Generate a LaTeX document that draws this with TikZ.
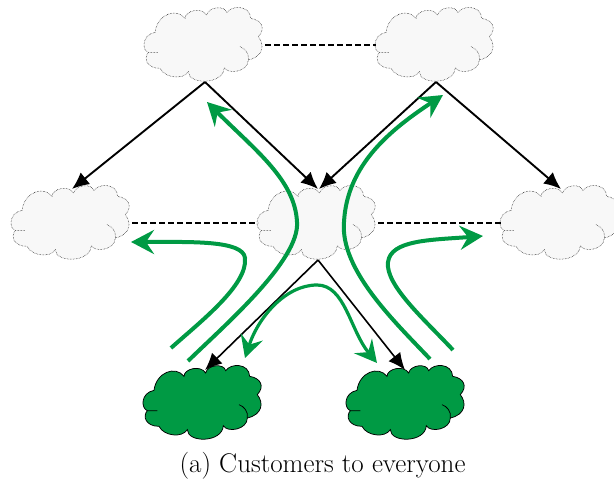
\documentclass[tikz,border=0pt]{standalone}
\usetikzlibrary{arrows.meta}
\definecolor{flow}{RGB}{0,154,68}
\definecolor{cloudfill}{RGB}{248,248,248}
\tikzset{
  x=1pt,y=-1pt,
  cloudpeer/.style={fill=cloudfill,draw=black,line width=0.5pt,densely dotted},
  cloudcust/.style={fill=flow,draw=black,line width=0.75pt},
  anchorbox/.style={minimum width=120pt,minimum height=74pt,inner sep=0pt,outer sep=0pt},
  linkp/.style={line width=1.9pt,-{Latex[length=17pt,width=15pt]}},
  peerlink/.style={line width=1.9pt,dash pattern=on 6pt off 3pt},
  flowbig/.style={draw=flow,line width=4pt,-{Stealth[length=23pt,width=24pt,inset=8pt]}},
  flowthin/.style={draw=flow,line width=3.2pt,{Stealth[length=22pt,width=23pt,inset=8pt]}-{Stealth[length=22pt,width=23pt,inset=8pt]}},
  pics/cloud/.style={code={
    \draw[#1,x=.3333pt,y=-.3333pt,shift={(-225,-135)}]
      (75,97) .. controls (82,42) and (140,22) .. (165,55)
      .. controls (165,32) and (215,20) .. (230,45)
      .. controls (235,20) and (285,15) .. (290,38)
      .. controls (305,15) and (360,15) .. (362,55)
      .. controls (395,60) and (408,85) .. (385,110)
      .. controls (405,135) and (400,170) .. (355,180)
      .. controls (355,215) and (295,225) .. (283,203)
      .. controls (280,255) and (175,255) .. (175,215)
      .. controls (160,240) and (105,235) .. (90,205)
      .. controls (50,205) and (40,175) .. (55,158)
      .. controls (35,150) and (35,105) .. (75,97) -- cycle;
    \draw[#1,fill=none,x=.3333pt,y=-.3333pt,shift={(-225,-135)}]
      (355,180) .. controls (358,160) and (345,145) .. (330,140)
      (55,158) -- (85,158);
  }}
}
\begin{document}
\begin{tikzpicture}
\useasboundingbox (0,0) rectangle (614,481);
% clouds
\pic at (205,45) {cloud=cloudpeer};
\pic at (436,45) {cloud=cloudpeer};
\pic at (72,223) {cloud=cloudpeer};
\pic at (318,223) {cloud=cloudpeer};
\pic at (561,223) {cloud=cloudpeer};
\pic at (204,403) {cloud=cloudcust};
\pic at (407,403) {cloud=cloudcust};
% named anchors
\node[anchorbox] (tl) at (205,45) {};
\node[anchorbox] (tr) at (436,45) {};
\node[anchorbox] (ml) at (72,223) {};
\node[anchorbox] (mc) at (318,223) {};
\node[anchorbox] (mr) at (561,223) {};
\node[anchorbox] (bl) at (204,403) {};
\node[anchorbox] (br) at (407,403) {};
% links
\draw[linkp] (tl.south) -- ([yshift=-3pt]ml.north);
\draw[linkp] (tl.south) -- ([yshift=-3pt]mc.north);
\draw[linkp] (tr.south) -- ([xshift=1pt,yshift=-3pt]mc.north);
\draw[linkp] (tr.south) -- ([yshift=-3pt]mr.north);
\draw[linkp,line width=1.6pt] (mc.south) -- ([xshift=1pt,yshift=-4pt]bl.north);
\draw[linkp,line width=1.6pt] (mc.south) -- ([xshift=-2pt,yshift=-4pt]br.north);
\draw[peerlink] (tl.east) -- (tr.west);
\draw[peerlink] (ml.east) -- (mc.west);
\draw[peerlink] (mc.east) -- (mr.west);
% flows
\coordinate (f1a) at (171,348); \coordinate (f1m) at (245,258); \coordinate (f1b) at (131,242);
\coordinate (f2a) at (188,361); \coordinate (f2m) at (297,222); \coordinate (f2b) at (207,102);
\coordinate (f3a) at (430,359); \coordinate (f3m) at (344,222); \coordinate (f3b) at (443,95);
\coordinate (f4a) at (453,350); \coordinate (f4m) at (388,262); \coordinate (f4b) at (483,236);
\coordinate (f5a) at (245,358); \coordinate (f5m) at (317,285); \coordinate (f5b) at (377,363);
\draw[flowbig] (f1a) .. controls (200,322) and (248,285) .. (f1m) .. controls (243,240) and (190,242) .. (f1b);
\draw[flowbig] (f2a) .. controls (225,325) and (300,260) .. (f2m) .. controls (295,180) and (255,150) .. (f2b);
\draw[flowbig] (f3a) .. controls (395,322) and (340,270) .. (f3m) .. controls (347,165) and (390,130) .. (f3b);
\draw[flowbig] (f4a) .. controls (425,320) and (385,285) .. (f4m) .. controls (391,240) and (430,240) .. (f4b);
\draw[flowthin] (f5a) .. controls (258,318) and (285,285) .. (f5m) .. controls (345,285) and (350,330) .. (f5b);
% caption
\node[font=\fontsize{27}{32}\selectfont,inner sep=0pt] (cap) at (322.5,466) {(a) Customers to everyone};
\end{tikzpicture}
\end{document}
